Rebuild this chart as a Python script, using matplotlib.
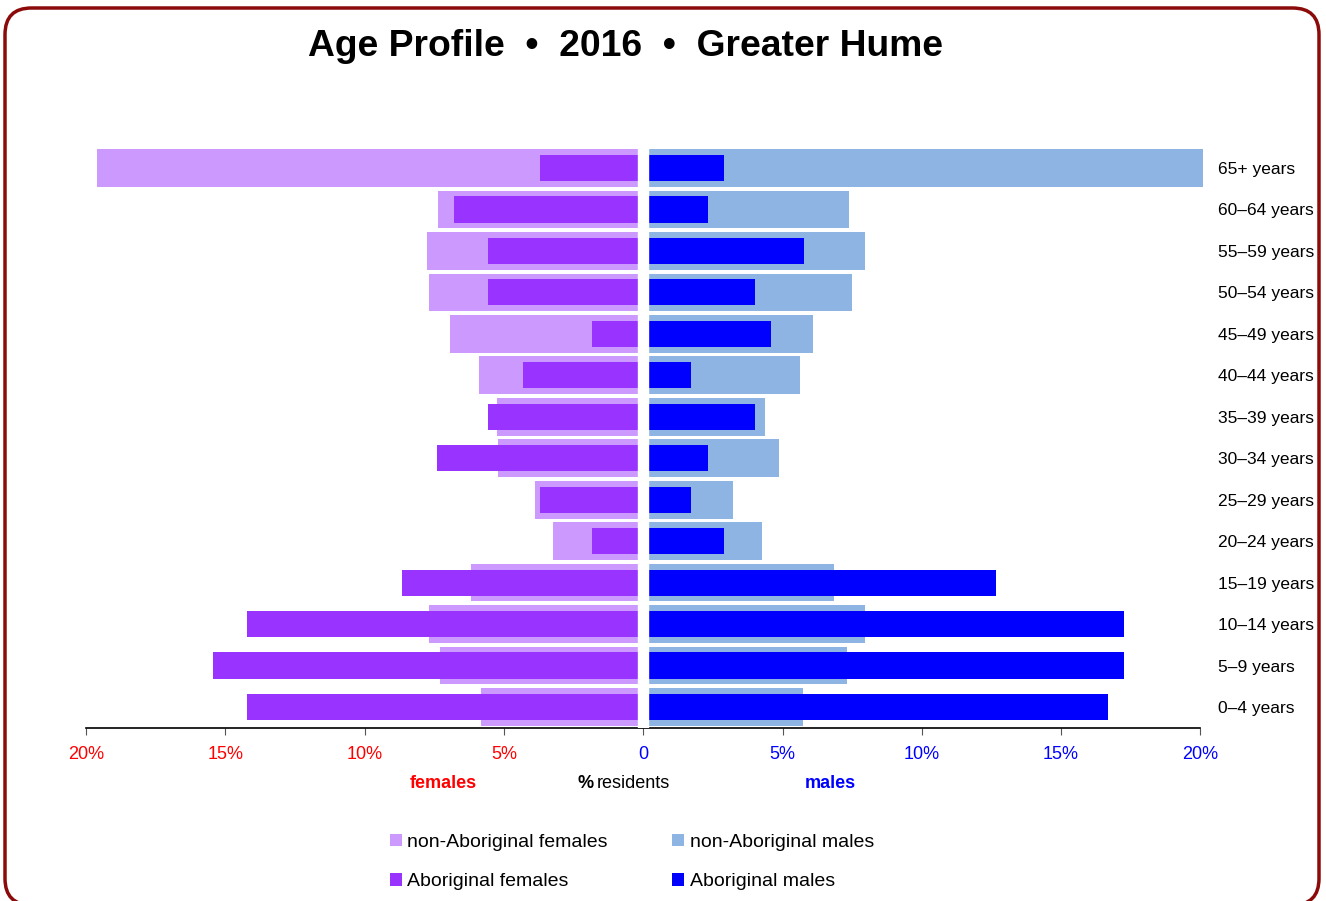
import numpy as np
import matplotlib
matplotlib.use("Agg")
import matplotlib.pyplot as plt
from matplotlib.patches import FancyBboxPatch

# age groups, bottom to top
age_groups = ["0–4 years", "5–9 years", "10–14 years", "15–19 years", "20–24 years",
              "25–29 years", "30–34 years", "35–39 years", "40–44 years", "45–49 years",
              "50–54 years", "55–59 years", "60–64 years", "65+ years"]

# % of residents in each group
non_abor_females = [5.81, 7.30, 7.68, 6.18, 3.25, 3.87, 5.21, 5.25, 5.91, 6.95, 7.68, 7.77, 7.37, 19.6]
abor_females = [14.21, 15.45, 14.21, 8.66, 1.85, 3.72, 7.41, 5.58, 4.32, 1.85, 5.58, 5.58, 6.80, 3.71]
non_abor_males = [5.74, 7.31, 7.97, 6.84, 4.27, 3.22, 4.87, 4.38, 5.64, 6.09, 7.50, 7.97, 7.39, 20.1]
abor_males = [16.69, 17.26, 17.26, 12.66, 2.89, 1.73, 2.31, 4.03, 1.73, 4.60, 4.03, 5.76, 2.31, 2.89]

x_ticks = [-20, -15, -10, -5, 0, 5, 10, 15, 20]
x_tick_labels = ["20%", "15%", "10%", "5%", "0", "5%", "10%", "15%", "20%"]

title = "Age Profile  •  2016  •  Greater Hume"

col_nf = "#CC99FF"
col_af = "#9933FF"
col_nm = "#8EB4E3"
col_am = "#0000FF"

W, H = 1326, 901
plt.rcParams["font.family"] = ["Liberation Sans", "DejaVu Sans"]


def fx(x):
    return x / W


def fy(y):
    return 1 - y / H


fig = plt.figure(figsize=(W / 100, H / 100), dpi=100)

# rounded frame
frame = FancyBboxPatch((fx(5), fy(905)), fx(1319) - fx(5), fy(8) - fy(905),
                       boxstyle="round,pad=0,rounding_size=0.02",
                       transform=fig.transFigure, fill=False,
                       edgecolor="#8B0A0A", linewidth=2.5, mutation_aspect=W / H)
fig.patches.append(frame)

ax = fig.add_axes([fx(86), fy(727.7), fx(1200.4) - fx(86), fy(147.3) - fy(727.7)])

y = np.arange(len(age_groups))
h_light = 0.91
h_dark = 0.63

b1 = ax.barh(y, -np.array(non_abor_females), height=h_light, color=col_nf, zorder=2)
b2 = ax.barh(y, -np.array(abor_females), height=h_dark, color=col_af, zorder=3)
b3 = ax.barh(y, non_abor_males, height=h_light, color=col_nm, zorder=2, clip_on=False)
b4 = ax.barh(y, abor_males, height=h_dark, color=col_am, zorder=3)

# gap in the middle
ax.axvspan(-0.17, 0.17, color="white", zorder=4)

ax.set_xlim(-20, 20)
ax.set_ylim(-0.5, len(age_groups) - 0.5)

for s in ["top", "left", "right"]:
    ax.spines[s].set_visible(False)
ax.spines["bottom"].set_color("black")
ax.spines["bottom"].set_linewidth(1.2)

ax.set_xticks(x_ticks)
ax.set_xticklabels(x_tick_labels, fontsize=13)
for i, lab in enumerate(ax.get_xticklabels()):
    lab.set_color("red" if x_ticks[i] < 0 else "blue")
ax.tick_params(axis="x", length=5, color="#555555", pad=8)

ax.yaxis.tick_right()
ax.set_yticks(y)
ax.set_yticklabels(age_groups, fontsize=12.5)
ax.tick_params(axis="y", length=0, pad=13)

fig.text(fx(625), fy(47), title, ha="center", va="center", fontsize=26.8, fontweight="bold")

fig.text(fx(443), fy(783), "females", ha="center", va="center", fontsize=13,
         fontweight="bold", color="red")
fig.text(fx(578), fy(783), "%", ha="left", va="center", fontsize=13, fontweight="bold")
fig.text(fx(597), fy(783), "residents", ha="left", va="center", fontsize=13)
fig.text(fx(830), fy(783), "males", ha="center", va="center", fontsize=13,
         fontweight="bold", color="blue")

fig.legend([b1, b2, b3, b4],
           ["non-Aboriginal females", "Aboriginal females",
            "non-Aboriginal males", "Aboriginal males"],
           ncol=2, loc="upper left", bbox_to_anchor=(fx(372), fy(816)),
           frameon=False, fontsize=14, handlelength=0.62, handleheight=0.62,
           handletextpad=0.3, columnspacing=3.3, labelspacing=1.15)

fig.savefig("out.png", dpi=100)
